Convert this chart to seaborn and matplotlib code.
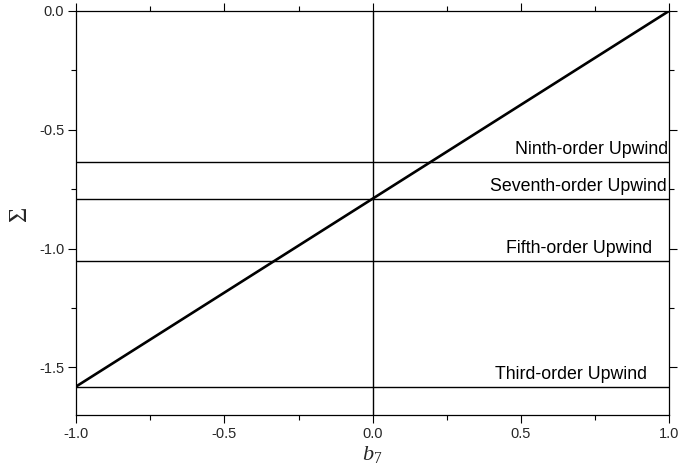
import matplotlib
matplotlib.use("Agg")
import matplotlib.pyplot as plt
import seaborn as sns
import pandas as pd

# Data
b7 = [-1.0, 1.0]
sigma = [-1.58, 0.0]
levels = [-0.636, -0.792, -1.054, -1.582]
level_names = ["Ninth-order Upwind", "Seventh-order Upwind",
               "Fifth-order Upwind", "Third-order Upwind"]
label_x = [0.997, 0.992, 0.943, 0.926]
x_ticks = [-1.0, -0.5, 0.0, 0.5, 1.0]
y_ticks = [0.0, -0.5, -1.0, -1.5]

sns.set_theme(style="ticks")
plt.rcParams['font.family'] = ['Liberation Sans', 'DejaVu Sans']
plt.rcParams['mathtext.fontset'] = 'custom'
plt.rcParams['mathtext.it'] = 'Liberation Serif:italic'
plt.rcParams['mathtext.rm'] = 'Liberation Serif'

fig = plt.figure(figsize=(6.8, 4.74), dpi=100)
ax = fig.add_axes([0.112, 0.1245, 0.872, 0.8525])

df = pd.DataFrame({"b7": b7, "sigma": sigma})
sns.lineplot(data=df, x="b7", y="sigma", ax=ax, color="black", linewidth=1.9)

for lv, name, lx in zip(levels, level_names, label_x):
    ax.axhline(lv, color="black", linewidth=1.0)
    ax.annotate(name, xy=(lx, lv), xytext=(0, 6), textcoords="offset points",
                ha="right", va="baseline", fontsize=12.8, color="black")

ax.axvline(0.0, color="black", linewidth=1.0)

ax.set_xlim(-1.0, 1.0)
ax.set_ylim(-1.7, 0.0)
ax.set_xticks(x_ticks)
ax.set_yticks(y_ticks)
ax.set_xticklabels([f"{v:.1f}" for v in x_ticks])
ax.set_yticklabels([f"{v:.1f}" for v in y_ticks])
ax.set_xticks([-0.75, -0.25, 0.25, 0.75], minor=True)
ax.set_yticks([-0.25, -0.75, -1.25], minor=True)

for s in ax.spines.values():
    s.set_visible(True)
    s.set_color("black")
    s.set_linewidth(0.9)

ax.tick_params(which="both", direction="out", top=True, right=True,
               labeltop=False, labelright=False, color="black", width=0.8)
ax.tick_params(which="major", length=5.5, labelsize=10.5, pad=3)
ax.tick_params(which="minor", length=3.5)

ax.set_xlabel(r"$b_{\mathrm{7}}$", fontsize=16, labelpad=2)
ax.set_ylabel("Σ", fontsize=19, family=["Liberation Serif", "DejaVu Serif"], labelpad=6)

fig.savefig("out.png", dpi=100)
